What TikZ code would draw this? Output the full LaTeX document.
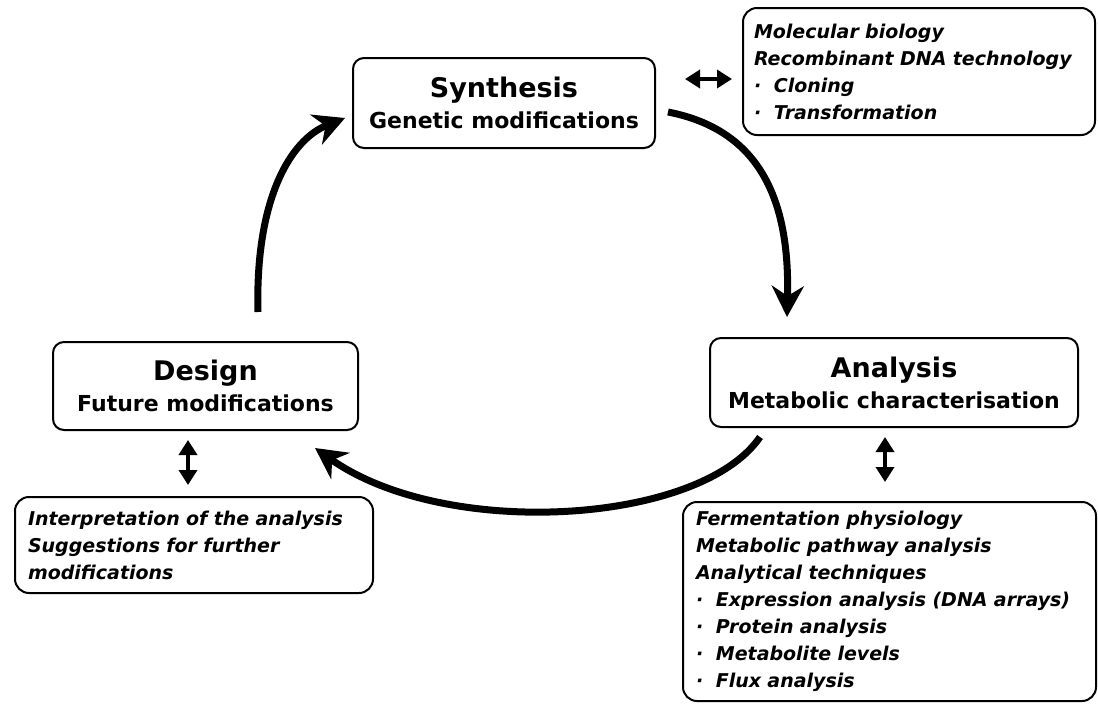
\documentclass[tikz,border=0pt]{standalone}
\usepackage{fontspec}
\setmainfont{DejaVu Sans}
\usepackage{tikz}
\usetikzlibrary{arrows.meta}

\begin{document}
\begin{tikzpicture}[x=1pt, y=-1pt,
  stage/.style={draw, line width=2pt, rounded corners=11pt, align=center, inner sep=0pt, font=\bfseries\fontsize{22}{31}\selectfont},
  notes/.style={draw, line width=2pt, rounded corners=14pt, align=left, inner xsep=13pt, inner ysep=0pt, font=\bfseries\itshape\fontsize{19}{27}\selectfont},
  turn/.style={line width=7pt, -{Stealth[length=31pt, width=32pt, inset=10pt]}},
  link/.style={line width=3.5pt, {Triangle[length=15pt, width=18pt]}-{Triangle[length=15pt, width=18pt]}}]
 \useasboundingbox (0,0) rectangle (1098,704);
 % the three stages
 \node[stage, minimum width=302pt, minimum height=90pt] (syn) at (504,103)
  {{\fontsize{27}{30}\selectfont Synthesis}\\ Genetic modifications};
 \node[stage, minimum width=368pt, minimum height=89pt] (ana) at (894,382.5)
  {{\fontsize{27}{30}\selectfont Analysis}\\ Metabolic characterisation};
 \node[stage, minimum width=305pt, minimum height=88pt] (des) at (205.5,386)
  {{\fontsize{27}{30}\selectfont Design}\\ Future modifications};
 % what goes with them
 \node[notes, inner xsep=11pt, text width=330pt, minimum height=127pt] (molbio) at (919,71.5)
  {Molecular biology\\ Recombinant DNA technology\\ ·\ \ Cloning\\ ·\ \ Transformation};
 \node[notes, text width=387pt, minimum height=199pt] (physio) at (889.5,601.5)
  {Fermentation physiology\\ Metabolic pathway analysis\\ Analytical techniques\\
   ·\ \ Expression analysis (DNA arrays)\\ ·\ \ Protein analysis\\
   ·\ \ Metabolite levels\\ ·\ \ Flux analysis};
 \node[notes, text width=332pt, minimum height=96pt] (interp) at (194,545)
  {Interpretation of the analysis\\ Suggestions for further\\ modifications};
 % ends of the arrows
 \coordinate (syn-out) at (668,112);
 \coordinate (ana-in) at (787,317);
 \coordinate (ana-out) at (760,437);
 \coordinate (des-in) at (315,448);
 \coordinate (des-out) at (258,312);
 \coordinate (syn-in) at (345,118);
 \coordinate (h-a) at (685,79);
 \coordinate (h-b) at (732,79);
 \coordinate (v-a) at (188,440);
 \coordinate (v-b) at (188,485);
 \coordinate (w-a) at (885,437);
 \coordinate (w-b) at (885,482);
 \draw[turn] (syn-out) .. controls (760,130) and (790,200) .. (ana-in);
 \draw[turn] (ana-out) .. controls (700,525) and (445,540) .. (des-in);
 \draw[turn] (des-out) .. controls (255,200) and (290,140) .. (syn-in);
 \draw[link] (h-a) -- (h-b);
 \draw[link] (v-a) -- (v-b);
 \draw[link] (w-a) -- (w-b);
\end{tikzpicture}
\end{document}
